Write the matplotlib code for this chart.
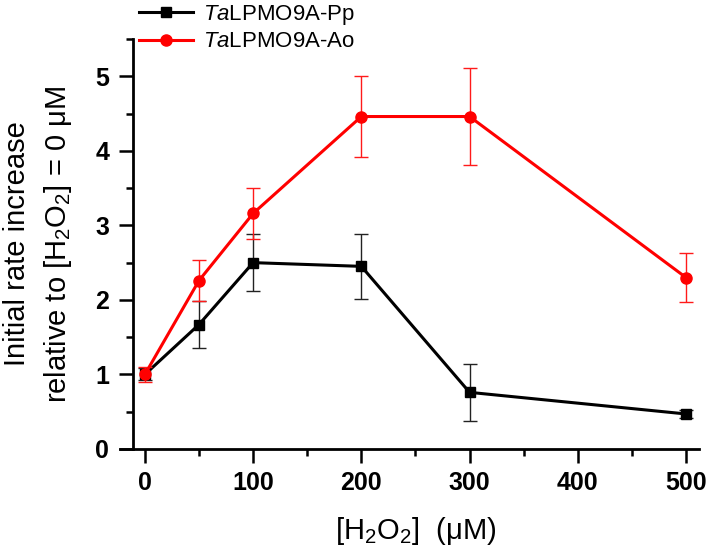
import matplotlib
matplotlib.use('Agg')

import numpy as np
from matplotlib import pyplot as plt
from matplotlib.ticker import MultipleLocator

# H2O2 concentrations (uM)
h2o2 = [0, 50, 100, 200, 300, 500]

# TaLPMO9A-Pp
pp_rate = [1.00, 1.67, 2.50, 2.45, 0.76, 0.47]
pp_err = [0.08, 0.31, 0.38, 0.44, 0.38, 0.05]

# TaLPMO9A-Ao
ao_rate = [1.00, 2.26, 3.16, 4.46, 4.46, 2.30]
ao_err = [0.10, 0.27, 0.34, 0.54, 0.65, 0.33]

xticks = [0, 100, 200, 300, 400, 500]
yticks = [0, 1, 2, 3, 4, 5]

plt.rcParams['font.family'] = ['Liberation Sans', 'DejaVu Sans']
plt.rcParams['mathtext.fontset'] = 'custom'
plt.rcParams['mathtext.rm'] = 'Liberation Sans'
plt.rcParams['mathtext.it'] = 'Liberation Sans:italic'
plt.rcParams['mathtext.bf'] = 'Liberation Sans:bold'


def main(output='out.png'):
    fig = plt.figure(figsize=(7.09, 5.49), dpi=100)
    ax = fig.add_axes([0.16925, 0.18215, 0.81664, 0.74681])

    ax.errorbar(h2o2, pp_rate, yerr=pp_err, fmt='none', ecolor='#222222',
                elinewidth=1.0, capsize=5, capthick=1.0, zorder=2)
    pp_line, = ax.plot(h2o2, pp_rate, color='black', lw=2.2, marker='s',
                       ms=7, zorder=3, label=r'$\mathit{Ta}$LPMO9A-Pp')
    ax.errorbar(h2o2, ao_rate, yerr=ao_err, fmt='none', ecolor='#ff1a1a',
                elinewidth=1.0, capsize=5, capthick=1.0, zorder=4)
    ao_line, = ax.plot(h2o2, ao_rate, color='#ff0000', lw=2.2, marker='o',
                       ms=8, zorder=5, label=r'$\mathit{Ta}$LPMO9A-Ao')

    ax.set_xlim(-23, 512)
    ax.set_ylim(0, 5.5)

    ax.spines['top'].set_visible(False)
    ax.spines['right'].set_visible(False)
    ax.spines['left'].set_position(('data', -11))
    ax.spines['left'].set_linewidth(2.0)
    ax.spines['bottom'].set_linewidth(2.0)

    ax.set_xticks(xticks)
    ax.set_yticks(yticks)
    ax.xaxis.set_minor_locator(MultipleLocator(50))
    ax.yaxis.set_minor_locator(MultipleLocator(0.5))
    ax.tick_params(which='major', direction='out', length=10, width=1.8,
                   labelsize=18, pad=6)
    ax.tick_params(which='minor', direction='out', length=5, width=1.8)
    ax.tick_params(axis='y', which='major', pad=7)
    for lab in ax.get_xticklabels() + ax.get_yticklabels():
        lab.set_fontweight('bold')

    ax.set_xlabel('[H$_2$O$_2$]  (μM)', fontsize=21)
    ax.xaxis.set_label_coords(0.511, -0.16)
    ax.set_ylabel('Initial rate increase\nrelative to [H$_2$O$_2$] = 0 μM',
                  fontsize=21, linespacing=1.45)
    ax.yaxis.set_label_coords(-0.08, 0.5)

    ax.legend(handles=[pp_line, ao_line], loc='upper left',
              bbox_to_anchor=(139 / 709, 1 - 3 / 549),
              bbox_transform=fig.transFigure, frameon=False, fontsize=16,
              handlelength=2.43, handletextpad=0.45, labelspacing=0.2,
              borderpad=0, borderaxespad=0)

    fig.savefig(output, dpi=100)


if __name__ == '__main__':
    main()
